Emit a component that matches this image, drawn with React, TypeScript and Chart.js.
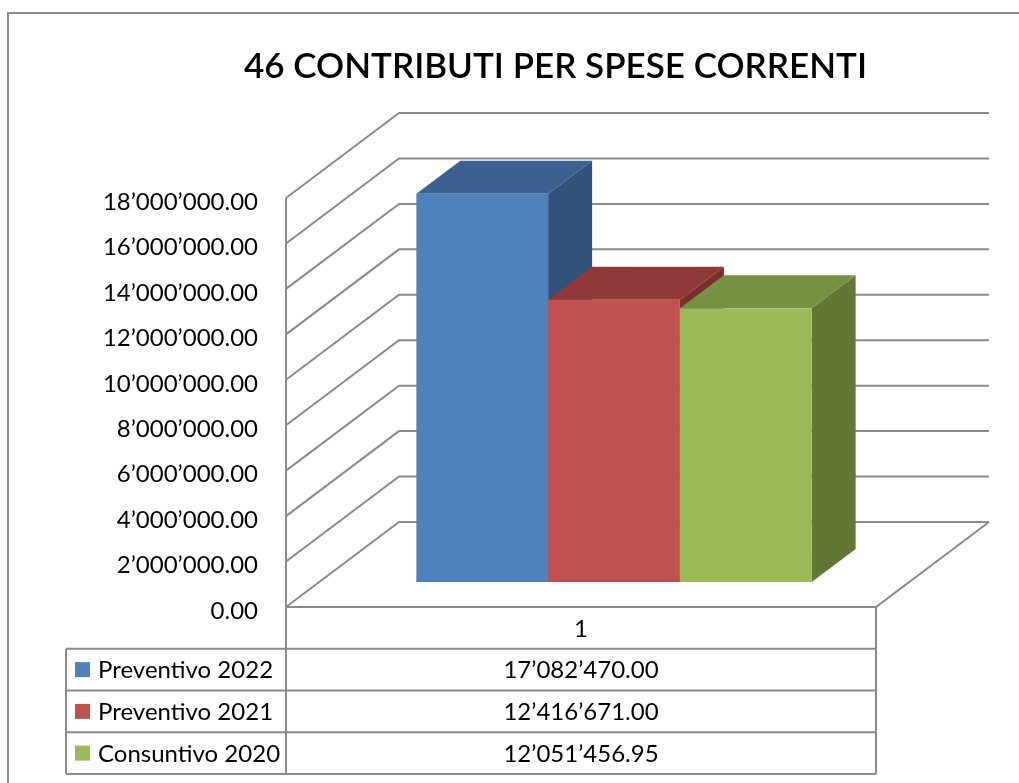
import React, { useEffect, useRef } from "react";
import { Chart, registerables } from "chart.js";

Chart.register(...registerables);

// ---- data ----
const categories = ["1"];
const seriesNames = ["Preventivo 2022", "Preventivo 2021", "Consuntivo 2020"];
const preventivo2022 = [17082470.0];
const preventivo2021 = [12416671.0];
const consuntivo2020 = [12051456.95];
const seriesValues = [preventivo2022, preventivo2021, consuntivo2020];
const yMin = 0;
const yMax = 18000000;
const yStep = 2000000;
const chartTitle = "46 CONTRIBUTI PER SPESE CORRENTI";

// ---- styles ----
const FRONT = ["#4F81BD", "#C0504D", "#9BBB59"];
const TOPC = ["#3C6090", "#8F3A38", "#779143"];
const SIDEC = ["#31527A", "#7A2D2B", "#627636"];
const GRID = "#8a8a8a";
const FONT = "Lato, 'Open Sans', sans-serif";

// projection (wall depth, bar placement & bar depth)
const WX = 113;
const WY = -85;
const OX = 33;
const OY = -25;
const BX = 44;
const BY = -33;
const ROW_H = 41.75;
const TABLE_LEFT = 66;

function fmt(v: number): string {
  const [i, d] = v.toFixed(2).split(".");
  return i.replace(/\B(?=(\d{3})+(?!\d))/g, "\u2019") + "." + d;
}

const box3d = {
  id: "box3d",
  beforeDraw(chart: any) {
    const ctx = chart.ctx;
    ctx.save();
    ctx.fillStyle = "#ffffff";
    ctx.fillRect(0, 0, chart.width, chart.height);
    ctx.strokeStyle = "#8c8c8c";
    ctx.lineWidth = 2;
    ctx.strokeRect(8, 13, chart.width + 50, chart.height + 50);
    ctx.restore();
  },
  beforeDatasetsDraw(chart: any) {
    const ctx = chart.ctx;
    const a = chart.chartArea;
    const y = chart.scales.y;
    ctx.save();
    ctx.strokeStyle = GRID;
    ctx.lineWidth = 2;
    ctx.lineJoin = "miter";
    for (const t of y.ticks) {
      const py = y.getPixelForValue(t.value);
      ctx.beginPath();
      ctx.moveTo(a.left, py);
      ctx.lineTo(a.left + WX, py + WY);
      ctx.lineTo(a.right + WX, py + WY);
      ctx.stroke();
    }
    ctx.beginPath();
    ctx.moveTo(a.left, a.bottom);
    ctx.lineTo(a.right, a.bottom);
    ctx.lineTo(a.right + WX, a.bottom + WY);
    ctx.stroke();
    ctx.beginPath();
    ctx.moveTo(a.left, y.getPixelForValue(yMax));
    ctx.lineTo(a.left, a.bottom);
    ctx.stroke();
    ctx.restore();

    // bars: sides and tops, then fronts drawn by Chart.js under same offset
    ctx.save();
    ctx.translate(OX, OY);
    chart.data.datasets.forEach((_ds: any, i: number) => {
      const meta = chart.getDatasetMeta(i);
      meta.data.forEach((bar: any) => {
        const p = bar.getProps(["x", "y", "base", "width"], true);
        const l = p.x - p.width / 2;
        const r = p.x + p.width / 2;
        const top = Math.min(p.y, p.base);
        const base = Math.max(p.y, p.base);
        ctx.fillStyle = SIDEC[i];
        ctx.beginPath();
        ctx.moveTo(r, top);
        ctx.lineTo(r + BX, top + BY);
        ctx.lineTo(r + BX, base + BY);
        ctx.lineTo(r, base);
        ctx.closePath();
        ctx.fill();
        ctx.fillStyle = TOPC[i];
        ctx.beginPath();
        ctx.moveTo(l, top);
        ctx.lineTo(r, top);
        ctx.lineTo(r + BX, top + BY);
        ctx.lineTo(l + BX, top + BY);
        ctx.closePath();
        ctx.fill();
      });
    });
  },
  afterDatasetsDraw(chart: any) {
    chart.ctx.restore();
  },
  afterDraw(chart: any) {
    const ctx = chart.ctx;
    const a = chart.chartArea;
    const y1 = a.bottom + ROW_H;
    const yEnd = y1 + ROW_H * seriesNames.length;
    ctx.save();
    ctx.strokeStyle = GRID;
    ctx.lineWidth = 2;
    ctx.beginPath();
    ctx.moveTo(a.left, a.bottom);
    ctx.lineTo(a.left, yEnd);
    ctx.moveTo(a.right, a.bottom);
    ctx.lineTo(a.right, yEnd);
    ctx.moveTo(TABLE_LEFT, y1);
    ctx.lineTo(TABLE_LEFT, yEnd);
    for (let i = 0; i <= seriesNames.length; i++) {
      ctx.moveTo(TABLE_LEFT, y1 + i * ROW_H);
      ctx.lineTo(a.right, y1 + i * ROW_H);
    }
    ctx.stroke();

    ctx.font = `24px ${FONT}`;
    ctx.textBaseline = "middle";
    ctx.fillStyle = "#000";
    seriesNames.forEach((name, i) => {
      const cy = y1 + ROW_H * (i + 0.5);
      ctx.fillStyle = FRONT[i];
      ctx.fillRect(75, cy - 7.5, 15, 15);
      ctx.fillStyle = "#000";
      ctx.textAlign = "left";
      ctx.fillText(name, 98, cy + 1);
      ctx.textAlign = "center";
      ctx.fillText(fmt(seriesValues[i][0]), (a.left + a.right) / 2, cy + 1);
    });
    ctx.restore();
  },
};

export default function App() {
  const ref = useRef<HTMLCanvasElement | null>(null);
  useEffect(() => {
    if (!ref.current) return;
    const chart = new Chart(ref.current, {
      type: "bar",
      data: {
        labels: categories,
        datasets: seriesNames.map((name, i) => ({
          label: name,
          data: seriesValues[i],
          backgroundColor: FRONT[i],
          borderWidth: 0,
          categoryPercentage: 0.67,
          barPercentage: 1,
        })),
      },
      options: {
        responsive: false,
        animation: false,
        devicePixelRatio: 1,
        layout: { padding: { left: 92, right: 0, top: 0, bottom: 0 } },
        plugins: {
          legend: { display: false },
          tooltip: { enabled: false },
          title: {
            display: true,
            text: chartTitle,
            color: "#000",
            font: { family: FONT, size: 35, weight: "600", lineHeight: 1.2 },
            padding: { top: 46, bottom: 110 },
          },
        },
        scales: {
          x: {
            grid: { display: false, drawTicks: false },
            border: { display: false },
            ticks: { color: "#000", font: { family: FONT, size: 24 }, padding: 8 },
            afterFit: (s: any) => {
              s.height = 176;
            },
          },
          y: {
            min: yMin,
            max: yMax,
            grid: { display: false, drawTicks: false },
            border: { display: false },
            ticks: {
              stepSize: yStep,
              color: "#000",
              padding: 28,
              labelOffset: 4,
              font: { family: FONT, size: 24 },
              callback: (v: any) => fmt(Number(v)),
            },
            afterFit: (s: any) => {
              s.width = 194;
            },
          },
          yRight: {
            position: "right",
            display: true,
            grid: { display: false, drawTicks: false },
            border: { display: false },
            ticks: { display: false },
            afterFit: (s: any) => {
              s.width = 143;
            },
          },
        },
      },
      plugins: [box3d],
    });
    return () => chart.destroy();
  }, []);
  return (
    <div style={{ position: "absolute", left: 0, top: 0, width: 1019, height: 783 }}>
      <canvas ref={ref} width={1019} height={783} />
    </div>
  );
}
